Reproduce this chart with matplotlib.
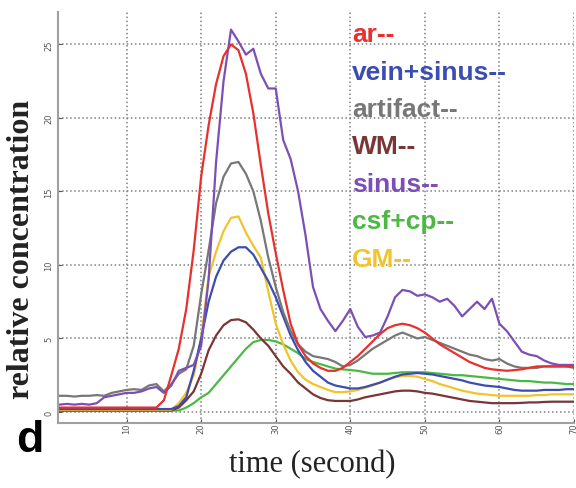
import numpy as np
import matplotlib
matplotlib.use('Agg')
import matplotlib.pyplot as plt

# time axis (seconds)
t = np.arange(1, 71)

ar = [0.3, 0.3, 0.3, 0.3, 0.3, 0.3, 0.3, 0.3, 0.3, 0.3, 0.3, 0.3, 0.3, 0.3, 0.8,
      2.5, 4.3, 7.0, 11.0, 16.0, 19.5, 22.3, 24.2, 25.0, 24.6, 23.0, 20.3, 16.8, 13.5, 10.8,
      8.3, 6.0, 4.6, 3.8, 3.3, 3.0, 2.8, 2.8, 3.0, 3.4, 3.8, 4.3, 4.8, 5.3, 5.7,
      5.9, 6.0, 5.9, 5.7, 5.4, 5.0, 4.6, 4.3, 4.0, 3.7, 3.4, 3.2, 3.0, 2.9, 2.85,
      2.8, 2.85, 2.9, 3.0, 3.1, 3.1, 3.1, 3.1, 3.1, 3.1]

vein_sinus = [0.2, 0.2, 0.2, 0.2, 0.2, 0.2, 0.2, 0.2, 0.2, 0.2, 0.2, 0.2, 0.2, 0.2, 0.2,
              0.2, 0.4, 1.0, 2.8, 5.0, 7.5, 9.2, 10.3, 10.9, 11.2, 11.2, 10.7, 9.8, 8.9, 7.8,
              6.5, 5.2, 4.2, 3.4, 2.8, 2.4, 2.0, 1.8, 1.7, 1.6, 1.6, 1.7, 1.85, 2.0, 2.2,
              2.4, 2.55, 2.6, 2.65, 2.6, 2.55, 2.45, 2.35, 2.25, 2.15, 2.0, 1.9, 1.8, 1.75, 1.7,
              1.6, 1.5, 1.45, 1.45, 1.45, 1.5, 1.5, 1.5, 1.55, 1.55]

artifact = [1.1, 1.1, 1.05, 1.1, 1.1, 1.15, 1.1, 1.3, 1.4, 1.5, 1.55, 1.5, 1.8, 1.9, 1.4,
            1.9, 2.6, 2.9, 4.5, 8.0, 11.0, 14.2, 16.0, 16.9, 17.0, 16.2, 15.0, 13.0, 10.5, 8.5,
            6.8, 5.5, 4.6, 4.1, 3.8, 3.7, 3.6, 3.4, 3.1, 3.2, 3.5, 3.9, 4.3, 4.6, 4.9,
            5.2, 5.4, 5.2, 5.0, 5.1, 4.9, 4.7, 4.5, 4.3, 4.1, 3.9, 3.8, 3.6, 3.5, 3.6,
            3.3, 3.1, 3.0, 3.0, 3.0, 3.1, 3.1, 3.1, 3.1, 3.0]

wm = [0.1, 0.1, 0.1, 0.1, 0.1, 0.1, 0.1, 0.1, 0.1, 0.1, 0.1, 0.1, 0.1, 0.1, 0.1,
      0.1, 0.3, 0.8, 1.4, 2.6, 4.2, 5.2, 5.9, 6.25, 6.3, 6.1, 5.6, 5.0, 4.5, 3.8,
      3.1, 2.6, 2.0, 1.6, 1.2, 0.95, 0.8, 0.75, 0.75, 0.75, 0.85, 1.0, 1.1, 1.2, 1.3,
      1.4, 1.45, 1.45, 1.4, 1.3, 1.25, 1.15, 1.05, 0.95, 0.85, 0.75, 0.7, 0.65, 0.6, 0.6,
      0.6, 0.6, 0.62, 0.65, 0.65, 0.68, 0.7, 0.7, 0.7, 0.7]

sinus = [0.5, 0.55, 0.5, 0.55, 0.5, 0.6, 1.0, 1.1, 1.2, 1.3, 1.3, 1.4, 1.6, 1.7, 1.3,
         1.8, 2.8, 3.0, 3.2, 4.5, 9.0, 17.0, 22.5, 26.0, 25.2, 24.3, 24.7, 23.0, 22.0, 22.0,
         18.5, 17.2, 15.0, 12.0, 8.5, 7.0, 6.2, 5.5, 6.2, 7.0, 5.8, 5.1, 5.2, 5.4, 6.5,
         7.8, 8.3, 8.2, 7.9, 8.0, 7.8, 7.5, 7.7, 7.2, 6.5, 7.0, 7.5, 7.0, 7.7, 6.0,
         5.5, 4.8, 4.1, 3.9, 3.8, 3.5, 3.3, 3.2, 3.2, 3.2]

csf_cp = [0.1, 0.1, 0.1, 0.1, 0.1, 0.1, 0.1, 0.1, 0.1, 0.1, 0.1, 0.1, 0.1, 0.1, 0.1,
          0.1, 0.1, 0.3, 0.6, 1.0, 1.3, 1.9, 2.5, 3.1, 3.7, 4.3, 4.75, 4.9, 4.9, 4.8,
          4.6, 4.3, 4.0, 3.6, 3.4, 3.25, 3.1, 2.95, 2.9, 2.85, 2.8, 2.7, 2.6, 2.6, 2.6,
          2.65, 2.7, 2.7, 2.7, 2.7, 2.65, 2.6, 2.55, 2.5, 2.5, 2.45, 2.4, 2.35, 2.3, 2.25,
          2.2, 2.15, 2.1, 2.1, 2.05, 2.0, 2.0, 1.95, 1.9, 1.9]

gm = [0.15, 0.15, 0.15, 0.15, 0.15, 0.15, 0.15, 0.15, 0.15, 0.15, 0.15, 0.15, 0.15, 0.15, 0.15,
      0.15, 0.6, 1.3, 2.5, 5.0, 9.2, 10.9, 12.3, 13.2, 13.3, 12.2, 11.3, 10.5, 8.2, 6.0,
      4.6, 3.5, 2.7, 2.2, 1.9, 1.7, 1.5, 1.35, 1.35, 1.4, 1.5, 1.65, 1.8, 2.0, 2.2,
      2.35, 2.45, 2.45, 2.4, 2.25, 2.1, 1.9, 1.75, 1.6, 1.45, 1.35, 1.25, 1.2, 1.15, 1.1,
      1.1, 1.1, 1.1, 1.1, 1.15, 1.15, 1.2, 1.2, 1.2, 1.2]

names = ['ar--', 'vein+sinus--', 'artifact--', 'WM--', 'sinus--', 'csf+cp--', 'GM--']
series = [ar, vein_sinus, artifact, wm, sinus, csf_cp, gm]
colors = ['#e8302e', '#3b4db0', '#777777', '#7a3535', '#7b4fb5', '#4cb844', '#f2c42a']

fig = plt.figure(figsize=(5.76, 4.89), dpi=100)
ax = fig.add_axes([0.1007, 0.1329, 0.8958, 0.8405])

# draw order: lower ones first so the big peaks sit on top
for i in [5, 3, 6, 1, 2, 4, 0]:
    ax.plot(t, series[i], color=colors[i], lw=1.6)

ax.set_xlim(0.8, 69.7)
ax.set_ylim(-0.75, 27.2)
ax.set_xticks([10, 20, 30, 40, 50, 60, 70])
ax.set_yticks([0, 5, 10, 15, 20, 25])
ax.grid(True, color='#808080', linestyle=':', lw=1.1)
ax.tick_params(labelsize=6, length=3, direction='in', colors='#555555')
for lab in ax.get_xticklabels() + ax.get_yticklabels():
    lab.set_rotation(90)
    lab.set_va('center')
for s in ['top', 'right']:
    ax.spines[s].set_visible(False)
for s in ['left', 'bottom']:
    ax.spines[s].set_color('#a0a0a0')
    ax.spines[s].set_linewidth(1.5)

# coloured labels stacked at the top right
for k in range(len(names)):
    ax.text(0.57, 0.946 - 0.091 * k, names[k], color=colors[k], transform=ax.transAxes,
            fontsize=19, fontweight='bold', va='center', ha='left',
            family='Liberation Sans', fontstretch='condensed')

fig.text(0.038, 0.49, 'relative concentration', rotation=90, ha='center', va='center',
         fontsize=23, fontweight='bold', family='Liberation Serif', color='#222222')
fig.text(0.542, 0.049, 'time (second)', ha='center', va='center',
         fontsize=22, family='Liberation Serif', color='#222222')
fig.text(0.052, 0.1, 'd', ha='center', va='center', fontsize=32, fontweight='bold',
         family='Liberation Sans')

fig.savefig('out.png', dpi=100)
